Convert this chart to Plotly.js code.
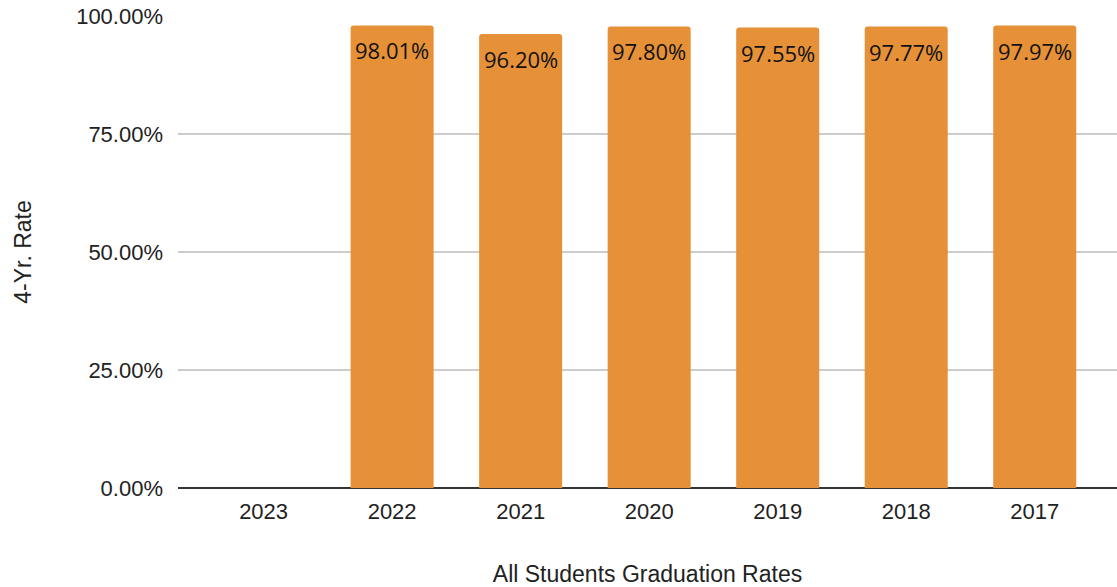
<!DOCTYPE html>
<html>
<head>
<meta charset="utf-8">
<script src="https://cdn.plot.ly/plotly-3.0.1.min.js"></script>
<style>html,body{margin:0;padding:0;background:#fff;}#chart{width:1117px;height:587px;}</style>
</head>
<body>
<div id="chart"></div>
<script>
const years = ["2023", "2022", "2021", "2020", "2019", "2018", "2017"];
const rates = [null, 98.01, 96.20, 97.80, 97.55, 97.77, 97.97];
const rateLabels = ["", "98.01%", "96.20%", "97.80%", "97.55%", "97.77%", "97.97%"];
const yTicks = [0, 25, 50, 75, 100];
const yTickLabels = ["0.00%", "25.00%", "50.00%", "75.00%", "100.00%"];

const trace = {
  type: "bar",
  x: years,
  y: rates,
  marker: { color: "#E69138", cornerradius: 3 },
  hoverinfo: "none"
};

const annotations = [];
years.forEach((yr, i) => {
  if (rates[i] == null) return;
  annotations.push({
    x: i, y: rates[i], xref: "x", yref: "y",
    text: rateLabels[i], showarrow: false,
    yanchor: "middle", yshift: -25,
    font: { family: "Open Sans, Noto Sans, sans-serif", size: 22, color: "#111" }
  });
});

const layout = {
  width: 1117, height: 587,
  margin: { l: 178, r: 0, t: 16, b: 99 },
  paper_bgcolor: "#fff", plot_bgcolor: "#fff",
  showlegend: false,
  bargap: 0.354,
  font: { family: "Liberation Sans, Arial, sans-serif", size: 22, color: "#222" },
  xaxis: {
    type: "category",
    range: [-0.666, 6.64],
    showgrid: false,
    showline: false,
    ticks: "",
    tickfont: { size: 22, color: "#222" },
    ticklabelstandoff: 8,
    title: { text: "All Students Graduation Rates", font: { size: 23, color: "#222" }, standoff: 44 }
  },
  yaxis: {
    range: [0, 100],
    tickvals: yTicks,
    ticktext: yTickLabels,
    showgrid: true,
    gridcolor: "#cccccc",
    gridwidth: 1.3,
    zeroline: true,
    zerolinecolor: "#333",
    zerolinewidth: 1.3,
    showline: false,
    ticks: "",
    tickfont: { size: 22, color: "#222" },
    ticklabelstandoff: 14,
    title: { text: "4-Yr. Rate", font: { size: 23, color: "#222" }, standoff: 38 },
    automargin: false
  },
  annotations: annotations
};

Plotly.newPlot("chart", [trace], layout, { displayModeBar: false, staticPlot: true });
</script>
</body>
</html>
